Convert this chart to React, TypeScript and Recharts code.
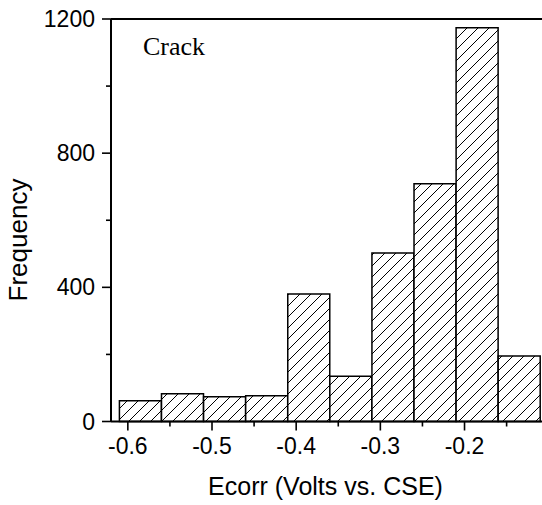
import React from "react"
import {
  ComposedChart,
  Bar,
  XAxis,
  YAxis,
  ReferenceLine,
} from "recharts"

// histogram of corrosion potential, bins 0.05 V wide
const binStarts = [-0.61, -0.56, -0.51, -0.46, -0.41, -0.36, -0.31, -0.26, -0.21, -0.16]
const counts = [62, 83, 74, 77, 380, 135, 502, 709, 1174, 195]
const binWidth = 0.05

const xTicks = [-0.6, -0.55, -0.5, -0.45, -0.4, -0.35, -0.3, -0.25, -0.2, -0.15]
const xLabeled = [-0.6, -0.5, -0.4, -0.3, -0.2]
const yTicks = [0, 200, 400, 600, 800, 1000, 1200]
const yLabeled = [0, 400, 800, 1200]

const data = binStarts.map((s, i) => ({ mid: s + binWidth / 2, count: counts[i] }))

const W = 576
const H = 505
const AXIS_Y = 421.5
const sans = "'Liberation Sans', Arial, sans-serif"
const serif = "'Liberation Serif', 'Times New Roman', serif"

const isIn = (list: number[], v: number) => list.some((t) => Math.abs(t - v) < 1e-6)

function YTick(props: any) {
  const { x, y, payload } = props
  const major = isIn(yLabeled, payload.value)
  // x is axis - tickSize - tickMargin (9 + 7)
  const ax = x + 16
  return (
    <g>
      <line x1={ax - (major ? 9 : 5)} x2={ax} y1={y} y2={y} stroke="#000" strokeWidth={1.6} />
      {major && (
        <text x={x} y={y} dy={8} textAnchor="end" fontSize={23} fontFamily={sans} fill="#000">
          {payload.value}
        </text>
      )}
    </g>
  )
}

function XTick(props: any) {
  const { x, payload } = props
  const major = isIn(xLabeled, payload.value)
  return (
    <g>
      <line x1={x} x2={x} y1={AXIS_Y} y2={AXIS_Y + (major ? 9 : 5)} stroke="#000" strokeWidth={1.6} />
      {major && (
        <text x={x} y={AXIS_Y + 32.5} textAnchor="middle" fontSize={23} fontFamily={sans} fill="#000">
          {payload.value.toFixed(1)}
        </text>
      )}
    </g>
  )
}

export default function App() {
  return (
    <div
      style={{
        position: "fixed",
        left: 0,
        top: 0,
        width: 542,
        height: 505,
        overflow: "hidden",
        background: "#fff",
      }}
    >
      <ComposedChart
        width={W}
        height={H}
        data={data}
        barCategoryGap={0}
        margin={{ top: 19, right: W - 548.7, left: 0, bottom: H - AXIS_Y - 60 }}
      >
        <defs>
          <pattern id="hatch" patternUnits="userSpaceOnUse" width={11} height={11}>
            <rect width={11} height={11} fill="#fff" />
            <path d="M0,11 L11,0 M-2,2 L2,-2 M9,13 L13,9" stroke="#000" strokeWidth={1} />
          </pattern>
        </defs>
        <XAxis
          dataKey="mid"
          type="number"
          domain={[-0.62, -0.1]}
          allowDataOverflow
          ticks={xTicks}
          interval={0}
          height={60}
          tickLine={false}
          tick={<XTick />}
          axisLine={{ stroke: "#000", strokeWidth: 2 }}
          label={{
            content: () => (
              <text x={325.5} y={495} textAnchor="middle" fontSize={25} fontFamily={sans} fill="#000">
                Ecorr (Volts vs. CSE)
              </text>
            ),
          }}
        />
        <YAxis
          type="number"
          domain={[0, 1200]}
          ticks={yTicks}
          interval={0}
          width={111}
          tickSize={9}
          tickMargin={7}
          tickLine={false}
          tick={<YTick />}
          axisLine={{ stroke: "#000", strokeWidth: 2 }}
          label={{
            content: () => (
              <text
                x={27}
                y={240}
                transform="rotate(-90 27 240)"
                textAnchor="middle"
                fontSize={26}
                fontFamily={sans}
                fill="#000"
              >
                Frequency
              </text>
            ),
          }}
        />
        <ReferenceLine y={1200} stroke="#000" strokeWidth={2} />
        <Bar
          dataKey="count"
          fill="url(#hatch)"
          stroke="#000"
          strokeWidth={1.5}
          isAnimationActive={false}
        />
        <ReferenceLine
          y={1200}
          stroke="none"
          label={{
            content: () => (
              <text x={143} y={55} fontSize={26} fontFamily={serif} fill="#000">
                Crack
              </text>
            ),
          }}
        />
      </ComposedChart>
    </div>
  )
}
